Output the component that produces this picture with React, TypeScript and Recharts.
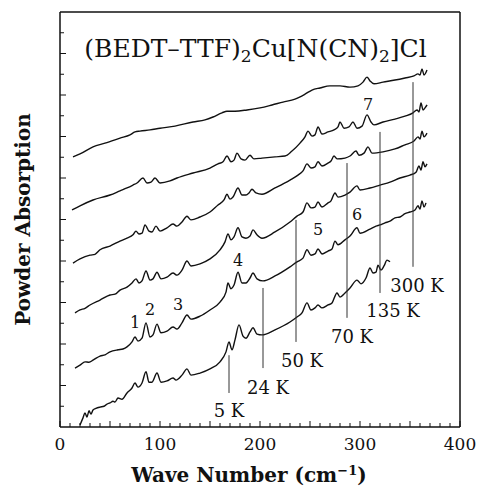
import React from "react";
import { LineChart, Line, XAxis, YAxis, ReferenceLine, ReferenceDot } from "recharts";

// wave number (cm-1) vs. powder absorption (offset, arb. units)
const curve5K: [number, number][] = [
  [20, 0.05], [23, 0.22], [25, 0.34], [27, 0.24], [29, 0.39], [31, 0.31], [33, 0.41], [36, 0.45],
  [40, 0.48], [44, 0.5], [47, 0.55], [50, 0.58], [53, 0.62], [55, 0.6], [58, 0.7], [62, 0.67],
  [67, 0.82], [72, 0.94], [75, 1.06], [78, 0.96], [82, 1.06], [86, 1.33], [89, 1.08], [92, 1.08],
  [97, 1.3], [101, 1.08], [107, 1.11], [113, 1.18], [116, 1.13], [122, 1.25], [127, 1.4], [131, 1.25],
  [140, 1.3], [150, 1.4], [160, 1.57], [166, 1.81], [169, 2.05], [172, 1.86], [175, 2.1], [179, 2.46],
  [183, 2.19], [186, 2.14], [190, 2.29], [193, 2.39], [197, 2.24], [202, 2.22], [215, 2.34], [230, 2.53],
  [237, 2.65], [242, 2.75], [247, 2.99], [251, 2.82], [255, 2.87], [258, 2.94], [262, 2.87], [268, 2.94],
  [272, 2.99], [277, 3.23], [280, 3.13], [285, 3.23], [290, 3.35], [297, 3.54], [301, 3.45], [306, 3.59],
  [310, 3.83], [313, 3.71], [316, 3.73], [318, 3.9], [321, 3.78], [324, 3.88], [327, 4.02], [330, 3.98],
];

const curve24K: [number, number][] = [
  [15, 1.42], [20, 1.49], [25, 1.57], [29, 1.56], [33, 1.61], [40, 1.71], [45, 1.74], [50, 1.81],
  [58, 1.86], [63, 1.88], [67, 1.93], [72, 2.05], [75, 2.17], [78, 2.07], [82, 2.14], [86, 2.51],
  [90, 2.17], [93, 2.22], [97, 2.48], [101, 2.27], [107, 2.31], [113, 2.41], [117, 2.36], [122, 2.51],
  [127, 2.7], [131, 2.6], [140, 2.67], [150, 2.82], [160, 3.01], [166, 3.25], [168, 3.47], [171, 3.33],
  [174, 3.42], [178, 3.73], [182, 3.47], [186, 3.47], [190, 3.59], [193, 3.71], [197, 3.57], [203, 3.52],
  [215, 3.64], [230, 3.86], [237, 3.98], [243, 4.07], [247, 4.27], [251, 4.14], [255, 4.17], [258, 4.29],
  [262, 4.17], [268, 4.24], [272, 4.29], [275, 4.48], [278, 4.39], [285, 4.51], [290, 4.6], [297, 4.8],
  [300, 4.67], [310, 4.77], [316, 4.84], [320, 4.87], [325, 4.92], [330, 4.96], [335, 5.04], [340, 5.06],
  [345, 5.14], [350, 5.18], [355, 5.23], [358, 5.33], [360, 5.25], [362, 5.45], [364, 5.3], [366, 5.4],
];

const curve50K: [number, number][] = [
  [15, 2.75], [20, 2.82], [25, 2.86], [30, 2.94], [40, 3.06], [50, 3.18], [55, 3.2], [60, 3.3],
  [67, 3.37], [72, 3.47], [76, 3.57], [79, 3.47], [82, 3.52], [86, 3.76], [90, 3.54], [93, 3.57],
  [97, 3.73], [101, 3.57], [107, 3.61], [113, 3.71], [117, 3.66], [122, 3.78], [127, 4.0], [131, 3.88],
  [140, 3.93], [150, 4.05], [160, 4.27], [165, 4.46], [168, 4.65], [171, 4.51], [174, 4.58], [178, 4.8],
  [182, 4.58], [186, 4.55], [190, 4.6], [193, 4.75], [197, 4.63], [202, 4.55], [215, 4.7], [230, 4.94],
  [237, 5.08], [243, 5.18], [247, 5.4], [251, 5.28], [255, 5.3], [258, 5.42], [262, 5.3], [268, 5.4],
  [271, 5.45], [275, 5.64], [278, 5.54], [285, 5.59], [290, 5.66], [297, 5.81], [300, 5.71], [310, 5.76],
  [320, 5.83], [330, 5.9], [340, 6.0], [350, 6.07], [356, 6.14], [359, 6.29], [361, 6.19], [363, 6.39],
  [365, 6.27], [367, 6.34],
];

const curve70K: [number, number][] = [
  [13, 3.95], [20, 4.05], [30, 4.14], [35, 4.16], [40, 4.27], [50, 4.36], [60, 4.48], [67, 4.55],
  [73, 4.63], [76, 4.72], [79, 4.65], [82, 4.67], [85, 4.87], [89, 4.72], [92, 4.7], [96, 4.84],
  [100, 4.72], [107, 4.8], [113, 4.89], [117, 4.84], [122, 4.94], [127, 5.08], [131, 4.99], [140, 5.06],
  [150, 5.18], [158, 5.35], [164, 5.47], [167, 5.61], [170, 5.49], [173, 5.54], [178, 5.76], [182, 5.59],
  [186, 5.59], [189, 5.64], [192, 5.73], [196, 5.64], [202, 5.61], [215, 5.76], [230, 5.95], [238, 6.07],
  [243, 6.17], [247, 6.34], [251, 6.24], [255, 6.27], [258, 6.39], [262, 6.29], [268, 6.36], [271, 6.41],
  [274, 6.53], [277, 6.46], [285, 6.48], [290, 6.53], [296, 6.65], [299, 6.55], [304, 6.6], [308, 6.75],
  [312, 6.6], [323, 6.63], [335, 6.7], [345, 6.8], [354, 6.89], [358, 6.99], [360, 6.94], [362, 7.13],
  [364, 6.99], [367, 7.08],
];

const curve135K: [number, number][] = [
  [12, 5.23], [20, 5.33], [33, 5.47], [50, 5.59], [60, 5.69], [67, 5.76], [73, 5.83], [77, 5.88],
  [83, 6.0], [87, 5.88], [91, 5.9], [95, 6.0], [100, 5.88], [110, 5.93], [117, 6.0], [133, 6.12],
  [150, 6.24], [158, 6.34], [163, 6.39], [167, 6.53], [171, 6.39], [174, 6.43], [177, 6.6], [181, 6.46],
  [185, 6.43], [190, 6.55], [194, 6.46], [202, 6.48], [215, 6.51], [225, 6.53], [232, 6.65], [240, 6.84],
  [245, 6.99], [248, 7.13], [252, 7.01], [255, 7.04], [258, 7.23], [262, 7.06], [268, 7.11], [274, 7.16],
  [278, 7.23], [280, 7.35], [284, 7.2], [289, 7.23], [293, 7.35], [297, 7.2], [302, 7.25], [307, 7.52],
  [311, 7.35], [314, 7.28], [323, 7.35], [335, 7.42], [345, 7.49], [353, 7.57], [357, 7.64], [359, 7.59],
  [361, 7.81], [363, 7.64], [365, 7.69], [367, 7.76],
];

const curve300K: [number, number][] = [
  [13, 6.51], [20, 6.58], [33, 6.75], [45, 6.84], [60, 6.96], [70, 7.04], [75, 7.11], [80, 7.13],
  [90, 7.16], [100, 7.2], [115, 7.25], [133, 7.35], [145, 7.4], [153, 7.47], [162, 7.57], [167, 7.61],
  [175, 7.61], [187, 7.64], [200, 7.69], [212, 7.76], [223, 7.83], [235, 7.9], [245, 8.02], [252, 8.12],
  [260, 8.17], [270, 8.22], [280, 8.22], [290, 8.19], [298, 8.22], [303, 8.31], [307, 8.43], [310, 8.34],
  [314, 8.27], [323, 8.31], [335, 8.36], [345, 8.41], [354, 8.46], [358, 8.51], [360, 8.48], [362, 8.63],
  [364, 8.48], [367, 8.6],
];

const curves = [curve5K, curve24K, curve50K, curve70K, curve135K, curve300K];

// temperature markers: vertical line from the label up to its spectrum
const tempNames = ["5 K", "24 K", "50 K", "70 K", "135 K", "300 K"];
const markerX = [169, 203, 236, 287, 320, 353];
const markerTop = [1.73, 3.35, 4.99, 6.36, 7.11, 8.31];
const markerBottom = [0.82, 1.42, 2.05, 2.63, 3.23, 3.86];
const tempLabelX = [169, 208, 242, 292, 333, 357];
const tempLabelY = [0.39, 0.96, 1.61, 2.19, 2.8, 3.4];

// numbered phonon modes
const peakNames = ["1", "2", "3", "4", "5", "6", "7"];
const peakX = [75, 90, 118, 178, 258, 297, 308];
const peakY = [2.53, 2.82, 2.96, 4.02, 4.75, 5.13, 7.78];

const xTicks = Array.from({ length: 41 }, (_, i) => i * 10);
const yTicks = Array.from({ length: 19 }, (_, i) => (i + 1) * 0.5);

const INK = "#111";
const FONT = '"DejaVu Serif", serif';

const BottomTick = ({ x, y, payload }: any) => {
  const v = payload.value;
  const len = v % 50 === 0 ? 6 : 4;
  return (
    <g>
      <line x1={x} x2={x} y1={y} y2={y - len} stroke={INK} strokeWidth={1} />
      {v % 100 === 0 && (
        <text x={x} y={y + 23} textAnchor="middle" fontSize={17} fontFamily={FONT} fill={INK}>
          {v}
        </text>
      )}
    </g>
  );
};

const TopTick = ({ x, y, payload }: any) => {
  const len = payload.value % 50 === 0 ? 6 : 4;
  return <line x1={x} x2={x} y1={y} y2={y + len} stroke={INK} strokeWidth={1} />;
};

const LeftTick = ({ x, y, payload }: any) => {
  const len = Number.isInteger(payload.value) ? 6 : 4;
  return <line x1={x} x2={x + len} y1={y} y2={y} stroke={INK} strokeWidth={1} />;
};

const RightTick = ({ x, y, payload }: any) => {
  const len = Number.isInteger(payload.value) ? 6 : 4;
  return <line x1={x} x2={x - len} y1={y} y2={y} stroke={INK} strokeWidth={1} />;
};

const textAt = (text: string, size: number) => (props: any) => {
  const vb = props.viewBox;
  return (
    <text
      x={vb.x}
      y={vb.y}
      textAnchor="middle"
      dominantBaseline="central"
      fontSize={size}
      fontFamily={FONT}
      fill={INK}
    >
      {text}
    </text>
  );
};

const Title = (props: any) => {
  const vb = props.viewBox;
  return (
    <text x={vb.x} y={vb.y} textAnchor="middle" fontSize={25} fontFamily={FONT} fill={INK}>
      (BEDT–TTF)
      <tspan dy={5} fontSize={17}>2</tspan>
      <tspan dy={-5}>Cu[N(CN)</tspan>
      <tspan dy={5} fontSize={17}>2</tspan>
      <tspan dy={-5}>]Cl</tspan>
    </text>
  );
};

const XLabel = (props: any) => {
  const vb = props.viewBox;
  return (
    <text
      x={vb.x + vb.width / 2 - 11}
      y={vb.y + 55}
      textAnchor="middle"
      fontSize={20}
      fontWeight="bold"
      fontFamily={FONT}
      fill={INK}
    >
      Wave Number (cm
      <tspan dy={-7} fontSize={13}>−1</tspan>
      <tspan dy={7}>)</tspan>
    </text>
  );
};

const YLabel = (props: any) => {
  const vb = props.viewBox;
  const cx = vb.x + 23;
  const cy = vb.y + vb.height / 2;
  return (
    <text
      x={cx}
      y={cy}
      transform={`rotate(-90, ${cx}, ${cy})`}
      textAnchor="middle"
      dominantBaseline="central"
      fontSize={20}
      fontWeight="bold"
      fontFamily={FONT}
      fill={INK}
    >
      Powder Absorption
    </text>
  );
};

export default function App() {
  return (
    <div style={{ position: "absolute", left: 0, top: 0, width: 480, height: 488, background: "#fff" }}>
      <LineChart width={480} height={488} margin={{ top: 0, right: 0, bottom: 0, left: 0 }}>
        <XAxis
          xAxisId="bottom"
          type="number"
          dataKey="x"
          domain={[0, 400]}
          ticks={xTicks}
          interval={0}
          height={61}
          tickSize={0}
          tickMargin={0}
          tickLine={false}
          tick={<BottomTick />}
          axisLine={{ stroke: INK, strokeWidth: 1.5 }}
          label={XLabel}
        />
        <XAxis
          xAxisId="top"
          orientation="top"
          type="number"
          dataKey="x"
          domain={[0, 400]}
          ticks={xTicks}
          interval={0}
          height={12}
          tickSize={0}
          tickMargin={0}
          tickLine={false}
          tick={<TopTick />}
          axisLine={{ stroke: INK, strokeWidth: 1.5 }}
        />
        <YAxis
          yAxisId="left"
          type="number"
          domain={[0, 10]}
          ticks={yTicks}
          interval={0}
          width={60}
          tickSize={0}
          tickMargin={0}
          tickLine={false}
          tick={<LeftTick />}
          axisLine={{ stroke: INK, strokeWidth: 1.5 }}
          label={YLabel}
        />
        <YAxis
          yAxisId="right"
          orientation="right"
          type="number"
          domain={[0, 10]}
          ticks={yTicks}
          interval={0}
          width={20}
          tickSize={0}
          tickMargin={0}
          tickLine={false}
          tick={<RightTick />}
          axisLine={{ stroke: INK, strokeWidth: 1.5 }}
        />

        {curves.map((c, i) => (
          <Line
            key={tempNames[i]}
            xAxisId="bottom"
            yAxisId="left"
            data={c.map(([x, y]) => ({ x, y }))}
            dataKey="y"
            type="monotone"
            stroke={INK}
            strokeWidth={1.4}
            dot={false}
            activeDot={false}
            isAnimationActive={false}
          />
        ))}

        {markerX.map((x, i) => (
          <ReferenceLine
            key={"m" + i}
            xAxisId="bottom"
            yAxisId="left"
            segment={[
              { x, y: markerBottom[i] },
              { x, y: markerTop[i] },
            ]}
            stroke="#333"
            strokeWidth={1}
          />
        ))}

        {tempNames.map((t, i) => (
          <ReferenceDot
            key={t}
            xAxisId="bottom"
            yAxisId="left"
            x={tempLabelX[i]}
            y={tempLabelY[i]}
            r={0}
            stroke="none"
            fill="none"
            label={textAt(t, 18)}
          />
        ))}

        {peakNames.map((p, i) => (
          <ReferenceDot
            key={"p" + p}
            xAxisId="bottom"
            yAxisId="left"
            x={peakX[i]}
            y={peakY[i]}
            r={0}
            stroke="none"
            fill="none"
            label={textAt(p, 16)}
          />
        ))}

        <ReferenceDot
          xAxisId="bottom"
          yAxisId="left"
          x={195.5}
          y={8.92}
          r={0}
          stroke="none"
          fill="none"
          label={Title}
        />
      </LineChart>
    </div>
  );
}
